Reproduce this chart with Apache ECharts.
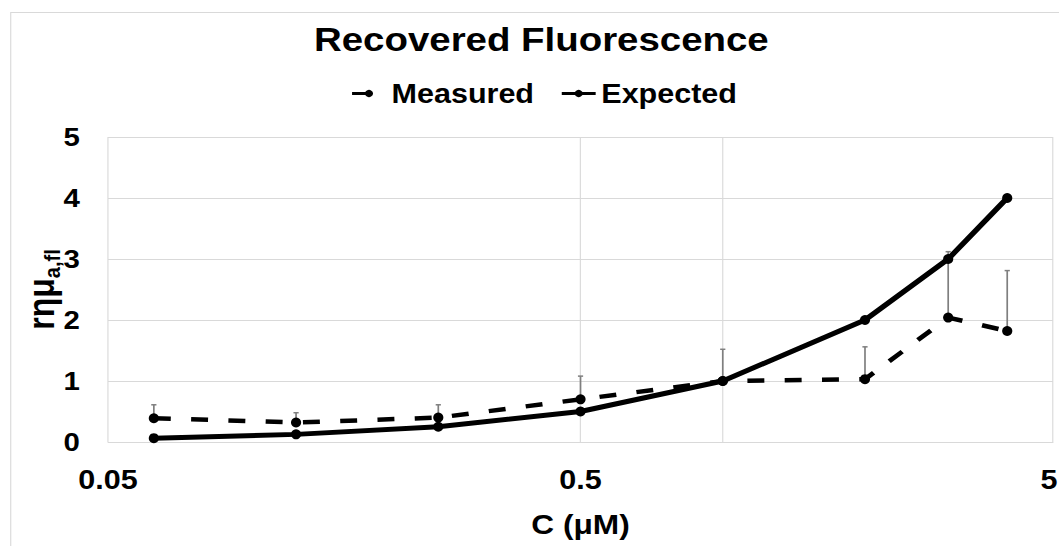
<!DOCTYPE html>
<html>
<head>
<meta charset="utf-8">
<script src="https://cdn.jsdelivr.net/npm/echarts@6/dist/echarts.min.js"></script>
<style>
  html, body { margin: 0; padding: 0; background: #fff; overflow: hidden; }
  /* chart is laid out narrower and widened horizontally */
  #chart { width: 937px; height: 546px; transform: scaleX(1.1302); transform-origin: 0 0; }
</style>
</head>
<body>
<div id="chart"></div>
<script>
// Concentration (µM) on a log axis
const concentrations = [0.0625, 0.125, 0.25, 0.5, 1, 2, 3, 4];
// Measured recovered fluorescence and its upper error
const measured    = [0.39, 0.32, 0.40, 0.70, 1.00, 1.03, 2.04, 1.82];
const measuredErr = [0.22, 0.16, 0.21, 0.38, 0.52, 0.53, 1.08, 0.99];
// Expected recovered fluorescence
const expected    = [0.0625, 0.125, 0.25, 0.5, 1, 2, 3, 4];
// Axis ticks
const xTickLabels = [0.05, 0.5, 5];
const xGridValues = [0.05, 0.5, 1, 5];
const yMin = 0, yMax = 5, yStep = 1;

const FONT = 'Liberation Sans, Arial, sans-serif';
const GRID = '#d9d9d9';
const labelFont = { fontFamily: FONT, fontSize: 27, fontWeight: 'bold', color: '#000' };

const chart = echarts.init(document.getElementById('chart'), null, { renderer: 'svg' });

const pairs = ys => concentrations.map((c, i) => [c, ys[i]]);
const fmtTick = v => String(+(+v).toPrecision(6));

chart.setOption({
  animation: false,
  backgroundColor: '#fff',
  graphic: [{
    type: 'rect', left: 7, top: 10, silent: true,
    shape: { width: 2000, height: 1000 },
    style: { fill: 'none', stroke: GRID, lineWidth: 1 }
  }],
  title: {
    text: 'Recovered Fluorescence',
    left: 479, top: 19, padding: 0,
    textAlign: 'center', textVerticalAlign: 'top',
    textStyle: { fontFamily: FONT, fontSize: 34, fontWeight: 'bold', color: '#000', lineHeight: 40 }
  },
  legend: {
    data: ['Measured', 'Expected'],
    left: 310, top: 80, padding: 0,
    itemWidth: 30, itemHeight: 9, itemGap: 23,
    lineStyle: { width: 3 },
    textStyle: { fontFamily: FONT, fontSize: 27, fontWeight: 'bold', color: '#000' }
  },
  grid: { left: 95.6, right: 5.3, top: 137, bottom: 104, containLabel: false, outerBoundsMode: 'none' },
  xAxis: {
    type: 'log', logBase: 10, min: 0.05, max: 5,
    axisLine: { show: true, onZero: false, lineStyle: { color: GRID, width: 1 } },
    axisTick: { show: false, customValues: xGridValues },
    splitLine: { show: true, lineStyle: { color: GRID, width: 1 } },
    axisLabel: Object.assign({
      customValues: xTickLabels,
      margin: 23, lineHeight: 30,
      // the last label sits at the right edge; nudge it inward
      formatter: (v, i) => {
        const s = fmtTick(v);
        return Math.abs(+v - xTickLabels[xTickLabels.length - 1]) < 1e-9 ? '{edge|' + s + '}' : s;
      },
      rich: { edge: Object.assign({ padding: [0, 7, 0, 0], lineHeight: 30 }, labelFont) }
    }, labelFont),
    name: 'C (μM)', nameLocation: 'middle', nameGap: 67,
    nameTextStyle: { fontFamily: FONT, fontSize: 28, fontWeight: 'bold', color: '#000', lineHeight: 30 }
  },
  yAxis: {
    type: 'value', min: yMin, max: yMax, interval: yStep,
    axisLine: { show: false }, axisTick: { show: false },
    splitLine: { lineStyle: { color: GRID, width: 1 } },
    axisLabel: { margin: 25, fontFamily: FONT, fontSize: 26, fontWeight: 'bold', color: '#000' },
    name: '{m|rημ}{s|a,fl}', nameLocation: 'middle', nameGap: 39, nameRotate: 90,
    nameMoveOverlap: false,
    nameTextStyle: {
      rich: {
        m: { fontFamily: FONT, fontSize: 32, fontWeight: 'bold', color: '#000', lineHeight: 40 },
        s: { fontFamily: FONT, fontSize: 20, fontWeight: 'bold', color: '#000', lineHeight: 18, verticalAlign: 'bottom' }
      }
    }
  },
  series: [
    {
      name: 'Measured error', type: 'custom', z: 1, silent: true,
      data: concentrations.map((c, i) => [c, measured[i], measuredErr[i]]),
      encode: { x: 0, y: 1 },
      renderItem(params, api) {
        const x = api.value(0), y = api.value(1), e = api.value(2);
        const p0 = api.coord([x, y]);
        const p1 = api.coord([x, y + e]);
        const cap = 2.3;
        const st = { stroke: '#7f7f7f', lineWidth: 1.5 };
        return {
          type: 'group',
          children: [
            { type: 'line', shape: { x1: p0[0], y1: p0[1], x2: p1[0], y2: p1[1] }, style: st },
            { type: 'line', shape: { x1: p1[0] - cap, y1: p1[1], x2: p1[0] + cap, y2: p1[1] }, style: st }
          ]
        };
      }
    },
    {
      name: 'Measured', type: 'line', z: 3,
      data: pairs(measured),
      symbol: 'circle', symbolSize: [9, 10],
      itemStyle: { color: '#000' },
      lineStyle: { color: '#000', width: 4.5, type: [15, 18] }
    },
    {
      name: 'Expected', type: 'line', z: 4,
      data: pairs(expected),
      symbol: 'circle', symbolSize: [9, 10],
      itemStyle: { color: '#000' },
      lineStyle: { color: '#000', width: 5 }
    }
  ]
});
</script>
</body>
</html>
